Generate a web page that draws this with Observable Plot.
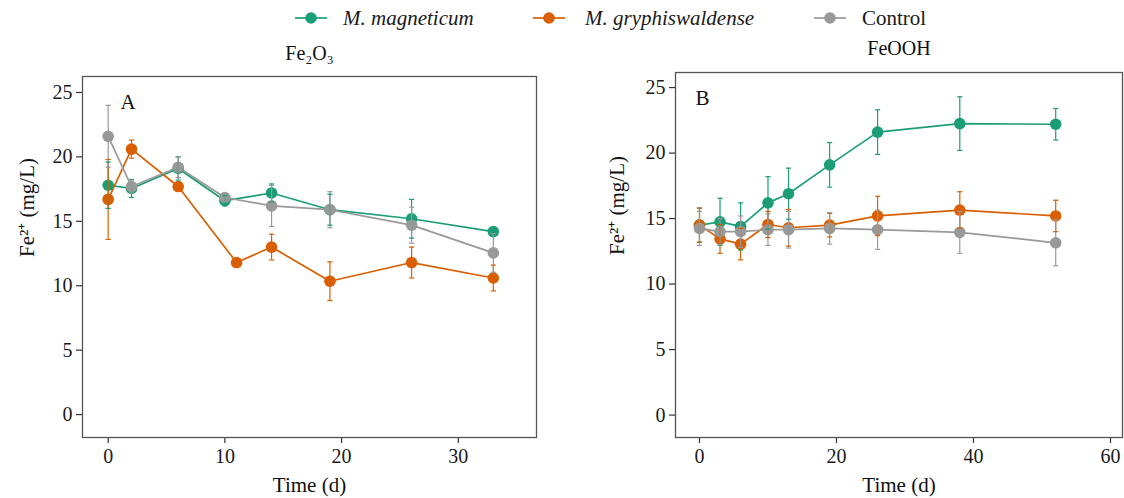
<!DOCTYPE html>
<html><head><meta charset="utf-8">
<script src="https://cdn.jsdelivr.net/npm/d3@7"></script>
<script src="https://cdn.jsdelivr.net/npm/@observablehq/plot@0.6"></script>
<style>
body{margin:0;background:#fff;}
#wrap{position:relative;width:1124px;height:498px;font-family:"Liberation Serif","Times New Roman",serif;color:#1a1a1a;overflow:hidden;}
.panel{position:absolute;top:0;}
.lg-key{position:absolute;top:10px;}
.lg-txt{position:absolute;top:5px;font-size:21px;line-height:26px;white-space:nowrap;}
</style></head><body><div id="wrap"></div>
<script>
// ---------- data ----------
const seriesNames = ["M. magneticum", "M. gryphiswaldense", "Control"];
const seriesColors = ["#1b9e77", "#d95f02", "#999999"];

// Panel A (Fe2O3)
const timeA_mag = [0, 2, 6, 10, 14, 19, 26, 33];
const feA_mag   = [17.8, 17.55, 19.1, 16.6, 17.2, 15.9, 15.2, 14.2];
const sdA_mag   = [1.8, 0.7, 0.9, 0.4, 0.7, 1.2, 1.5, 0.2];
const timeA_gry = [0, 2, 6, 11, 14, 19, 26, 33];
const feA_gry   = [16.7, 20.6, 17.7, 11.8, 13.0, 10.35, 11.8, 10.6];
const sdA_gry   = [3.1, 0.7, 0.2, 0.2, 1.0, 1.5, 1.2, 1.0];
const timeA_ctl = [0, 2, 6, 10, 14, 19, 26, 33];
const feA_ctl   = [21.6, 17.7, 19.2, 16.85, 16.2, 15.9, 14.7, 12.55];
const sdA_ctl   = [2.4, 0.5, 0.8, 0.3, 1.6, 1.4, 1.4, 1.5];

// Panel B (FeOOH)
const timeB     = [0, 3, 6, 10, 13, 19, 26, 38, 52];
const feB_mag   = [14.5, 14.75, 14.4, 16.2, 16.9, 19.1, 21.6, 22.25, 22.2];
const sdB_mag   = [1.3, 1.8, 1.8, 2.0, 1.95, 1.7, 1.7, 2.05, 1.2];
const feB_gry   = [14.5, 13.45, 13.05, 14.55, 14.3, 14.5, 15.2, 15.65, 15.2];
const sdB_gry   = [1.3, 1.1, 1.2, 1.0, 1.4, 0.9, 1.5, 1.4, 1.2];
const feB_ctl   = [14.25, 14.0, 14.0, 14.15, 14.15, 14.25, 14.15, 13.95, 13.15];
const sdB_ctl   = [1.3, 1.0, 1.2, 1.2, 1.4, 1.2, 1.5, 1.6, 1.75];

const ticksA_x = [0, 10, 20, 30];
const ticksB_x = [0, 20, 40, 60];
const ticksY = [0, 5, 10, 15, 20, 25];

// ---------- build tables ----------
function rows(series, t, v, sd) {
  return t.map((d, i) => ({series, time: d, fe: v[i], lo: v[i] - sd[i], hi: v[i] + sd[i]}));
}
const dataA = [
  ...rows(seriesNames[0], timeA_mag, feA_mag, sdA_mag),
  ...rows(seriesNames[1], timeA_gry, feA_gry, sdA_gry),
  ...rows(seriesNames[2], timeA_ctl, feA_ctl, sdA_ctl)
];
const dataB = [
  ...rows(seriesNames[0], timeB, feB_mag, sdB_mag),
  ...rows(seriesNames[1], timeB, feB_gry, sdB_gry),
  ...rows(seriesNames[2], timeB, feB_ctl, sdB_ctl)
];

const capSymbol = {draw(ctx, size) { const w = Math.sqrt(size / Math.PI); ctx.moveTo(-w, 0); ctx.lineTo(w, 0); }};
const FONT = "Liberation Serif";

function panel(data, opts) {
  const svg = Plot.plot({
    width: opts.width, height: 498,
    marginLeft: opts.ml, marginRight: opts.mr, marginTop: opts.mt, marginBottom: 61,
    style: {fontSize: "20px", color: "#1a1a1a", background: "transparent", overflow: "visible"},
    x: {domain: opts.xdom},
    y: {domain: opts.ydom},
    color: {domain: seriesNames, range: seriesColors},
    marks: [
      Plot.axisX({ticks: opts.xticks, tickSize: 6, tickPadding: 5, fontSize: 20, fill: "#1a1a1a", label: null, stroke: "#333", strokeWidth: 1.2}),
      Plot.axisY({ticks: ticksY, tickSize: 6, tickPadding: 4, fontSize: 20, fill: "#1a1a1a", label: null, stroke: "#333", strokeWidth: 1.2}),
      Plot.line(data, {x: "time", y: "fe", z: "series", stroke: "series", strokeWidth: 1.7}),
      Plot.dot(data, {x: "time", y: "fe", fill: "series", r: 5.8}),
      Plot.ruleX(data, {x: "time", y1: "lo", y2: "hi", stroke: "series", strokeWidth: 1.2}),
      Plot.dot(data, {x: "time", y: "lo", symbol: capSymbol, r: 2.6, stroke: "series", strokeWidth: 1.2, fill: "none"}),
      Plot.dot(data, {x: "time", y: "hi", symbol: capSymbol, r: 2.6, stroke: "series", strokeWidth: 1.2, fill: "none"}),
      Plot.frame({stroke: "#555", strokeWidth: 1.3}),
      Plot.text([opts.letter], {frameAnchor: "top-left", text: d => d, dx: opts.ldx, dy: 26, textAnchor: "start", lineAnchor: "middle", fontSize: 21, fill: "#111"}),
      Plot.text([opts.title], {frameAnchor: "top", text: d => d, dy: opts.tdy, lineAnchor: "middle", fontSize: 20, fill: "#111"}),
      Plot.text(["Time (d)"], {frameAnchor: "bottom", text: d => d, dy: 48, lineAnchor: "middle", fontSize: 21, fill: "#111"}),
      Plot.text(["Fe²⁺ (mg/L)"], {frameAnchor: "left", text: d => d, dx: opts.ydx, rotate: -90, lineAnchor: "middle", fontSize: 21, fill: "#111"})
    ]
  });
  const s = d3.select(svg);
  s.attr("font-family", FONT).style("font-family", FONT);
  s.selectAll("g").each(function() { if (this.getAttribute("font-family")) this.setAttribute("font-family", FONT); });
  s.selectAll("text").attr("font-family", FONT).style("font-family", FONT);
  return svg;
}

const wrap = document.getElementById("wrap");

const pA = panel(dataA, {width: 562, ml: 82, mr: 26, mt: 76, xdom: [-2.2, 36.7], ydom: [-1.78, 26.24], xticks: ticksA_x, letter: "A", ldx: 38, title: "Fe₂O₃", tdy: -23, ydx: -55});
pA.classList.add("panel"); pA.style.left = "0px";
wrap.appendChild(pA);

const pB = panel(dataB, {width: 562, ml: 113, mr: 2, mt: 72, xdom: [-3.5, 61.75], ydom: [-1.71, 26.15], xticks: ticksB_x, letter: "B", ldx: 20, title: "FeOOH", tdy: -24, ydx: -58});
pB.classList.add("panel"); pB.style.left = "562px";
wrap.appendChild(pB);

// ---------- legend ----------
const keyX = [294, 532, 813];
const txtX = [343, 585, 862];
seriesNames.forEach((name, i) => {
  const svg = d3.create("svg").attr("class", "lg-key").attr("width", 34).attr("height", 16)
    .style("left", keyX[i] + "px");
  svg.append("line").attr("x1", 1).attr("x2", 33).attr("y1", 8).attr("y2", 8)
    .attr("stroke", seriesColors[i]).attr("stroke-width", 1.7);
  svg.append("circle").attr("cx", 17).attr("cy", 8).attr("r", 5.8).attr("fill", seriesColors[i]);
  wrap.appendChild(svg.node());
  const t = document.createElement("div");
  t.className = "lg-txt";
  t.style.left = txtX[i] + "px";
  t.style.fontStyle = i < 2 ? "italic" : "normal";
  t.textContent = name;
  wrap.appendChild(t);
});
</script></body></html>
